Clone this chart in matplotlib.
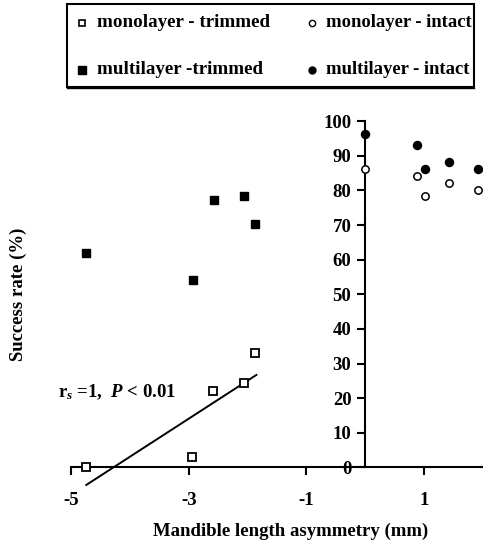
import matplotlib.pyplot as plt
from matplotlib.patches import Rectangle

plt.rcParams['font.family'] = 'Liberation Serif'
plt.rcParams['font.weight'] = 'bold'
plt.rcParams['mathtext.fontset'] = 'custom'
plt.rcParams['mathtext.rm'] = 'Liberation Serif:bold'
plt.rcParams['mathtext.it'] = 'Liberation Serif:italic:bold'

# monolayer / multilayer, trimmed (negative asymmetry)
trim_x = [-4.74, -2.95, -2.58, -2.06, -1.87]
mono_trim = [0, 3, 22, 24.3, 33]
multi_trim_x = [-4.74, -2.93, -2.57, -2.06, -1.87]
multi_trim = [62, 54, 77.3, 78.4, 70.2]

# intact
intact_x = [0, 0.88, 1.01, 1.43, 1.92]
mono_intact = [86.2, 84.3, 78.3, 82.2, 80.2]
multi_intact = [96.2, 93.1, 86.2, 88.2, 86.2]

# regression line endpoints (monolayer - trimmed)
fit_x = [-4.74, -1.85]
fit_y = [-5.1, 26.7]

W, H = 483, 545
fig = plt.figure(figsize=(W / 100, H / 100), dpi=100)
ax = fig.add_axes([71 / W, 1 - 467.3 / H, 412 / W, 346 / H])

ax.plot(trim_x, mono_trim, 's', mfc='white', mec='black', mew=1.3, ms=5.5, clip_on=False, zorder=4)
ax.plot(multi_trim_x, multi_trim, 's', color='black', ms=5.8, clip_on=False, zorder=4)
ax.plot(intact_x, mono_intact, 'o', mfc='white', mec='black', mew=1.1, ms=5.3, clip_on=False, zorder=4)
ax.plot(intact_x, multi_intact, 'o', color='black', ms=5.8, clip_on=False, zorder=4)
ax.plot(fit_x, fit_y, '-', color='black', lw=1.4, clip_on=False, zorder=3)

ax.set_xlim(-5, 2)
ax.set_ylim(0, 100)
ax.spines['top'].set_visible(False)
ax.spines['right'].set_visible(False)
ax.spines['left'].set_position(('data', 0))
ax.spines['left'].set_linewidth(1.5)
ax.spines['bottom'].set_linewidth(1.5)

ax.set_xticks([-5, -3, -1, 1])
ax.set_xticklabels(['-5', '-3', '-1', '1'])
ax.set_yticks(range(0, 101, 10))
ax.tick_params(axis='x', direction='out', length=6, width=1.5, pad=12, labelsize=13.5)
ax.tick_params(axis='y', direction='out', length=6, width=1.5, pad=4, labelsize=13.5)
for lab in ax.get_yticklabels():
    lab.set_verticalalignment('center_baseline')
ax.get_yticklabels()[0].set_bbox(dict(facecolor='white', edgecolor='none', pad=1))

fig.text(291 / W, 1 - 531 / H, 'Mandible length asymmetry (mm)', ha='center', va='center', fontsize=13.5)
fig.text(18 / W, 1 - 294 / H, 'Success rate (%)', ha='center', va='center', rotation=90, fontsize=13.5)

ax.text(58 / W, 1 - 392 / H, r'r$_{\mathit{s}}$ =1,  $\mathit{P}$ < 0.01', transform=fig.transFigure,
        ha='left', va='center', fontsize=13.5)

# legend drawn in pixel coordinates
lg = fig.add_axes([0, 0, 1, 1])
lg.set_xlim(0, W)
lg.set_ylim(H, 0)
lg.axis('off')
lg.add_patch(Rectangle((67, 4), 407, 83, fill=False, lw=1.5, ec='black'))
lg.plot([67, 474], [88.2, 88.2], color='black', lw=1.0)
lg.plot([82], [22.7], 's', mfc='white', mec='black', mew=1.2, ms=5)
lg.plot([82], [70], 's', color='black', ms=5.5)
lg.plot([312], [22.7], 'o', mfc='white', mec='black', mew=1.0, ms=4.5)
lg.plot([312], [70], 'o', color='black', ms=5)
lg.text(97, 22.7, 'monolayer - trimmed', ha='left', va='center', fontsize=13.7)
lg.text(97, 70, 'multilayer -trimmed', ha='left', va='center', fontsize=13.7)
lg.text(326, 22.7, 'monolayer - intact', ha='left', va='center', fontsize=13.4)
lg.text(326, 70, 'multilayer - intact', ha='left', va='center', fontsize=13.4)

fig.savefig('out.png', dpi=100)
